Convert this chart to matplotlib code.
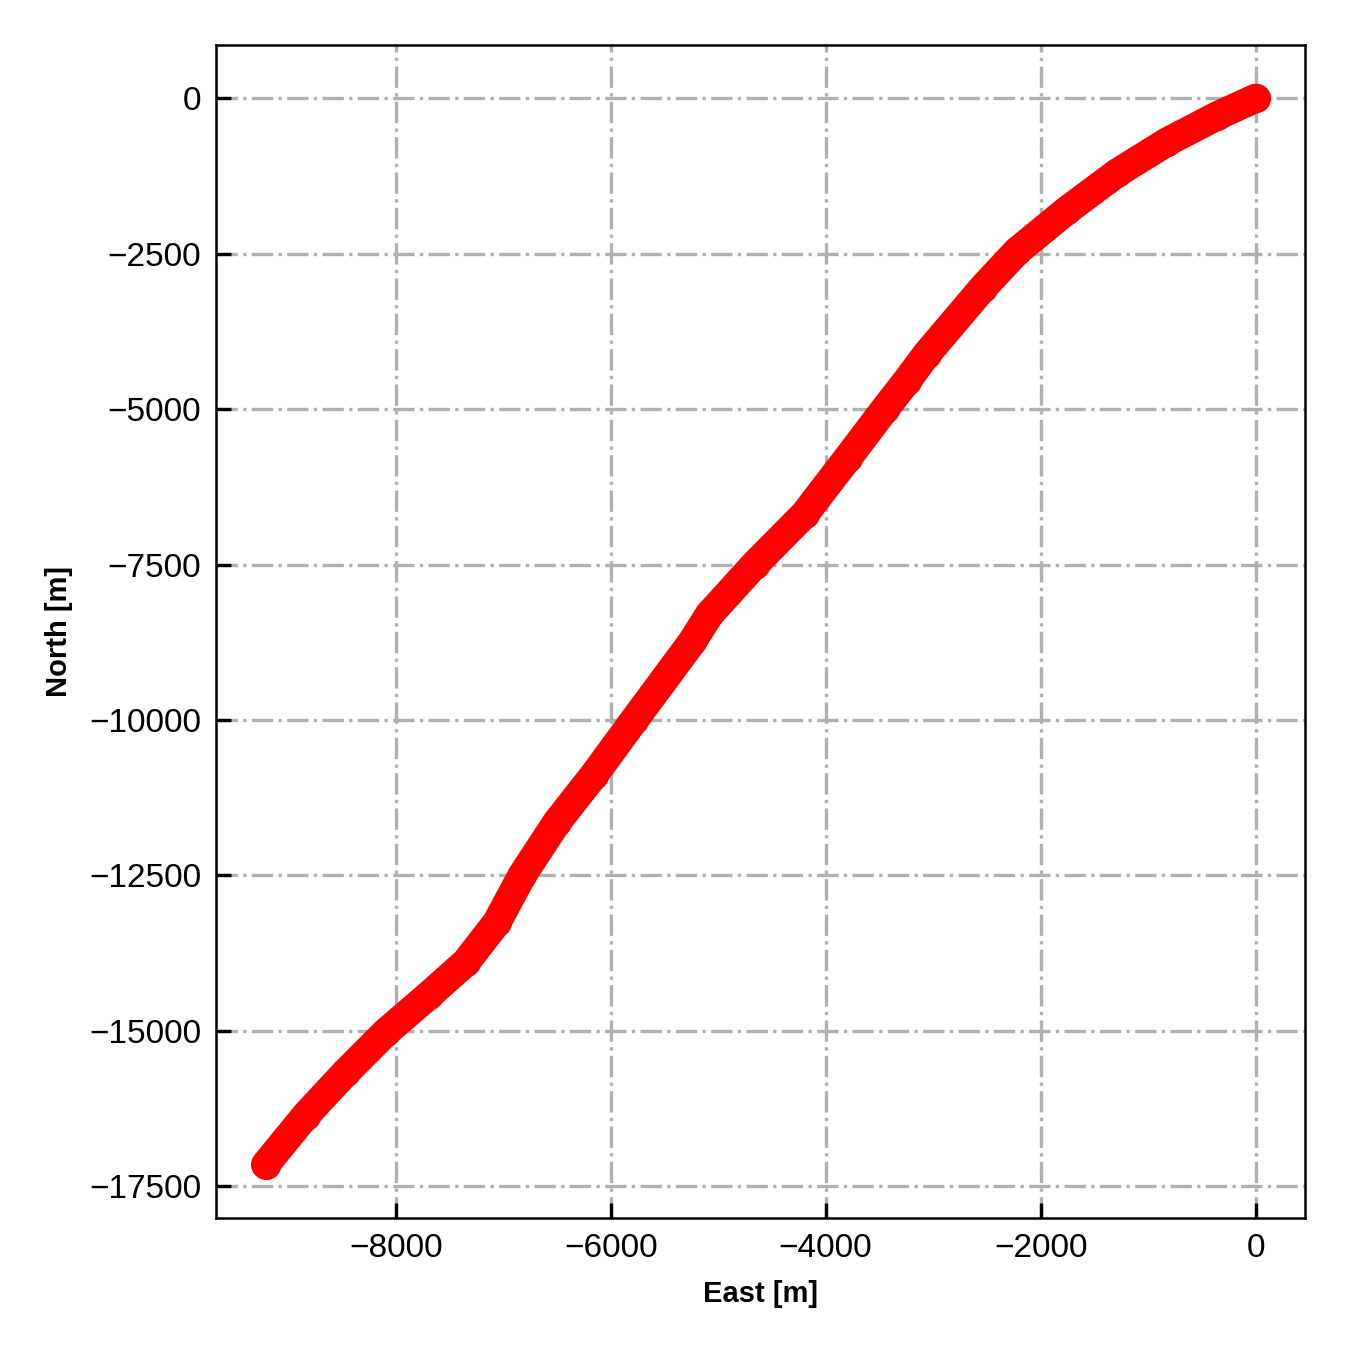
import matplotlib
matplotlib.use('Agg')
import matplotlib.pyplot as plt

plt.rcParams['font.family'] = ['Liberation Sans', 'DejaVu Sans']

# trajectory (metres)
east = [0, -354, -821, -1287, -1753, -2219, -2536, -3058, -3245, -3450,
        -3795, -4196, -4660, -5082, -5240, -5781, -6154, -6499, -6825,
        -7058, -7347, -7692, -8093, -8466, -8839, -9212]
north = [0, -280, -700, -1200, -1800, -2460, -3047, -4111, -4546, -5000,
         -5787, -6690, -7500, -8302, -8737, -10000, -10881, -11639, -12500,
         -13251, -13896, -14427, -15024, -15669, -16362, -17152]


def plot_track(ax, x, y):
    ax.plot(x, y, 'o-', color='red', ms=7, mew=0, lw=7,
            solid_capstyle='round', solid_joinstyle='round', zorder=3)
    ax.grid(True, linestyle='-.', color='#b0b0b0', linewidth=0.8, zorder=0)
    ax.set_axisbelow(True)
    ax.tick_params(direction='in', length=3.5, width=0.8, labelsize=8)
    for s in ax.spines.values():
        s.set_linewidth(0.6)
    ax.set_xlabel('East [m]', fontsize=7, fontweight='bold')
    ax.set_ylabel('North [m]', fontsize=7, fontweight='bold')


fig = plt.figure(figsize=(4.5, 4.5), dpi=300)
ax = fig.add_axes([0.16, 0.0978, 0.8067, 0.8689])
plot_track(ax, east, north)
fig.savefig('out.png', dpi=300)
